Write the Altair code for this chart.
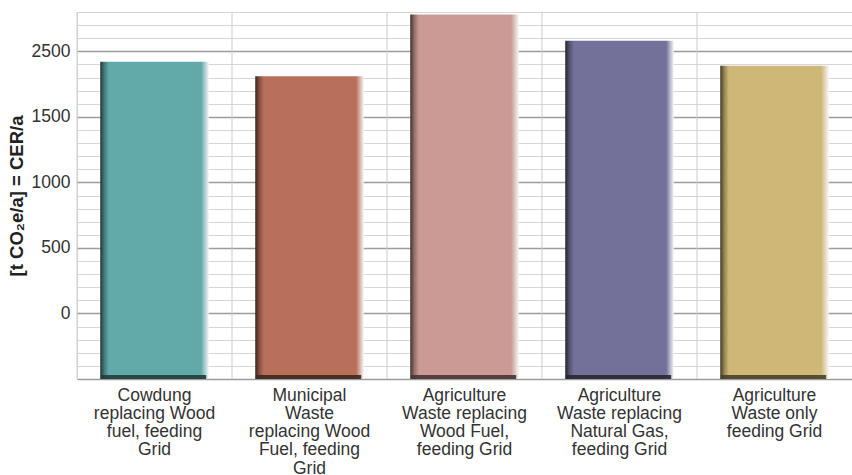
import altair as alt
import pandas as pd

# Scenario labels (line breaks as printed under each bar)
categories = [
    "Cowdung\nreplacing Wood\nfuel, feeding\nGrid",
    "Municipal\nWaste\nreplacing Wood\nFuel, feeding\nGrid",
    "Agriculture\nWaste replacing\nWood Fuel,\nfeeding Grid",
    "Agriculture\nWaste replacing\nNatural Gas,\nfeeding Grid",
    "Agriculture\nWaste only\nfeeding Grid",
]
# Emission reductions, t CO2e per year
values = [1920, 1810, 2280, 2080, 1890]
bar_colors = ["#62a9aa", "#b9705a", "#cb9a94", "#737199", "#cfb877"]

# Y axis ticks and the text printed at them
tick_values = [0, 500, 1000, 1500, 2000]
tick_texts = ["0", "500", "1000", "1500", "2500"]
y_min, y_max = -500, 2300
grid_values = list(range(y_min, y_max + 1, 100))

df = pd.DataFrame({"scenario": categories, "value": values})
order = categories

FONT = "Liberation Sans"
PLOT_W, PLOT_H = 775, 367


def shade(hex_color, f):
    h = hex_color.lstrip("#")
    r, g, b = (int(h[i:i + 2], 16) for i in (0, 2, 4))
    return "#{:02x}{:02x}{:02x}".format(int(r * f), int(g * f), int(b * f))


tick_arr = "[" + ",".join(str(v) for v in tick_values) + "]"
text_arr = "[" + ",".join("'" + t + "'" for t in tick_texts) + "]"
label_expr = (
    f"indexof({tick_arr}, datum.value) >= 0 ? "
    f"{text_arr}[indexof({tick_arr}, datum.value)] : ''"
)

x_scale = alt.Scale(paddingInner=0, paddingOuter=0)
y_scale = alt.Scale(domain=[y_min, y_max], nice=False, zero=False)

x_axis = alt.Axis(
    title=None,
    labelAngle=0,
    labelExpr="split(datum.label, '\\n')",
    labelFont=FONT,
    labelFontSize=17.5,
    labelColor="#333333",
    labelLineHeight=18.3,
    labelPadding=7,
    labelBaseline="top",
    ticks=False,
    domain=False,
    grid=False,
)

y_axis = alt.Axis(
    title="[t CO₂e/a] = CER/a",
    titleFont=FONT,
    titleFontSize=18.5,
    titleFontWeight="bold",
    titleColor="#222222",
    titlePadding=5,
    values=grid_values,
    labelExpr=label_expr,
    labelFont=FONT,
    labelFontSize=17.5,
    labelColor="#333333",
    labelPadding=7,
    labelOverlap=False,
    labelFlush=False,
    ticks=False,
    domain=False,
    grid=True,
    gridColor={
        "condition": {"test": "datum.value % 500 === 0", "value": "#9c9c9c"},
        "value": "#d6d6d6",
    },
    gridWidth={
        "condition": {"test": "datum.value % 500 === 0", "value": 1.7},
        "value": 1,
    },
)

X = alt.X("scenario:N", sort=order, scale=x_scale, axis=x_axis)


def Y(**kw):
    return alt.Y(scale=y_scale, axis=y_axis, **kw)


base = alt.Chart(df)

# Vertical separators on the left edge of every scenario column
half_step = PLOT_W / len(categories) / 2
separators = base.mark_rule(color="#cccccc", strokeWidth=1, xOffset=-half_step).encode(
    x=X
)

layers = [separators]
for cat, col in zip(categories, bar_colors):
    grad = alt.Gradient(
        gradient="linear",
        x1=0, x2=1, y1=0, y2=0,
        stops=[
            alt.GradientStop(color=shade(col, 0.3), offset=0),
            alt.GradientStop(color=shade(col, 0.7), offset=0.035),
            alt.GradientStop(color=col, offset=0.08),
            alt.GradientStop(color=col, offset=0.93),
            alt.GradientStop(color="#f4f6f6", offset=1),
        ],
    )
    sub = base.transform_filter(alt.datum.scenario == cat)
    bar = sub.mark_bar(color=grad, width=alt.RelativeBandSize(0.7)).encode(
        x=X,
        y=Y(field="value", type="quantitative"),
        y2=alt.Y2(datum=y_min),
    )
    # dark rim along the foot of each bar
    foot = sub.mark_bar(
        color=shade(col, 0.35), width=alt.RelativeBandSize(0.68),
        opacity=0.9, y2Offset=-4, xOffset=-1,
    ).encode(
        x=X,
        y=Y(datum=y_min),
        y2=alt.Y2(datum=y_min),
    )
    layers += [bar, foot]

chart = (
    alt.layer(*layers)
    .properties(
        width=PLOT_W,
        height=PLOT_H,
        autosize=alt.AutoSizeParams(type="none"),
        padding={"left": 77, "top": 12, "right": 0, "bottom": 96},
    )
    .configure_view(stroke=None)
    .configure(background="white")
)

chart.save("out.html", embed_options={"renderer": "svg", "actions": False})
